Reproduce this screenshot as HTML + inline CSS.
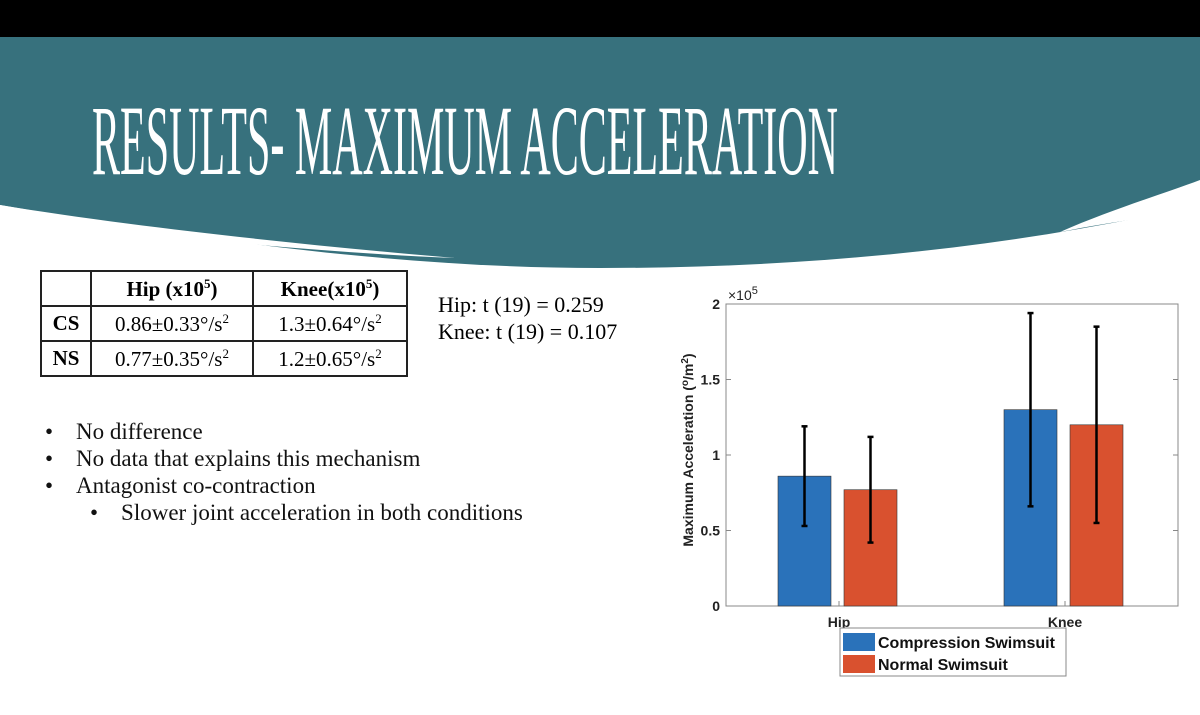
<!DOCTYPE html>
<html><head><meta charset="utf-8"><style>
body{margin:0;width:1200px;height:715px;overflow:hidden;background:#fff;font-family:"Liberation Serif",serif;position:relative}
.abs{position:absolute}
table{border-collapse:collapse;position:absolute;left:40px;top:270px;font-size:21px}
td{border:2px solid #222;height:33px;padding:0 4px;text-align:center;white-space:nowrap}
.b{font-weight:bold}
.bul{position:absolute;left:45px;font-size:23px;color:#111;white-space:nowrap}
</style></head><body>
<svg class="abs" style="left:0;top:0" width="1200" height="280">
<rect x="0" y="0" width="1200" height="37" fill="#000"/>
<path d="M0 37 H1200 V205 C1000 250 800 268 600 268 C400 268 200 240 0 205 Z" fill="#37717d"/>
<path d="M0 205 C120 225 300 245 455 258 C300 252 130 232 0 220 Z" fill="#fff"/>
<path d="M1200 180 C1160 195 1110 210 1060 232 C1110 222 1160 215 1200 212 Z" fill="#fff"/>
<text x="92" y="174" font-family="Liberation Serif, serif" font-size="100" fill="#fff" textLength="746" lengthAdjust="spacingAndGlyphs">RESULTS- MAXIMUM ACCELERATION</text>
</svg>
<table>
<tr><td style="width:40px"></td><td class="b" style="width:152px">Hip (x10<sup style="font-size:13px">5</sup>)</td><td class="b" style="width:144px">Knee(x10<sup style="font-size:13px">5</sup>)</td></tr>
<tr><td class="b">CS</td><td>0.86±0.33°/s<sup style="font-size:13px">2</sup></td><td>1.3±0.64°/s<sup style="font-size:13px">2</sup></td></tr>
<tr><td class="b">NS</td><td>0.77±0.35°/s<sup style="font-size:13px">2</sup></td><td>1.2±0.65°/s<sup style="font-size:13px">2</sup></td></tr>
</table>
<div class="abs" style="left:438px;top:291px;font-size:22px;line-height:27px">Hip: t (19) = 0.259<br>Knee: t (19) = 0.107</div>
<div class="bul" style="top:419px">•&nbsp;&nbsp;&nbsp;&nbsp;No difference</div>
<div class="bul" style="top:446px">•&nbsp;&nbsp;&nbsp;&nbsp;No data that explains this mechanism</div>
<div class="bul" style="top:473px">•&nbsp;&nbsp;&nbsp;&nbsp;Antagonist co-contraction</div>
<div class="bul" style="top:500px;left:90px">•&nbsp;&nbsp;&nbsp;&nbsp;Slower joint acceleration in both conditions</div>
<svg id="chart" class="abs" style="left:0;top:0" width="1200" height="715" font-family="Liberation Sans, sans-serif"></svg>
<script>
const categories=["Hip","Knee"];
const seriesNames=["Compression Swimsuit","Normal Swimsuit"];
const csValues=[0.86,1.3];
const nsValues=[0.77,1.2];
const csErr=[0.33,0.64];
const nsErr=[0.35,0.65];
const yTicks=[0,0.5,1,1.5,2];
const yTickLabels=["0","0.5","1","1.5","2"];
const colors=["#2a72ba","#d9512f"];
const svg=document.getElementById('chart');
const NS='http://www.w3.org/2000/svg';
const L=726,R=1178,T=304,B=596+10;
const y=v=>B-(v/2)*(B-T);
const x=i=>L+((i+1)-0.5)/2*(R-L);
function mk(t,a,p){const e=document.createElementNS(NS,t);for(const k in a)e.setAttribute(k,a[k]);(p||svg).appendChild(e);return e;}
const bg=mk('rect',{x:L,y:T,width:R-L,height:B-T,fill:'#fff',stroke:'#888','stroke-width':1});


yTicks.forEach((t,i)=>{
 mk('line',{x1:L,x2:L+5,y1:y(t),y2:y(t),stroke:'#888'});
 mk('line',{x1:R,x2:R-5,y1:y(t),y2:y(t),stroke:'#888'});
 const tx=mk('text',{x:L-6,y:y(t)+5,'text-anchor':'end','font-size':14,'font-weight':'bold',fill:'#222'});
 tx.textContent=yTickLabels[i];
 
 
});
const ex=mk('text',{x:728,y:300,'font-size':14,fill:'#222'});
ex.innerHTML='×10<tspan dy="-6" font-size="11">5</tspan>';


const series=[csValues,nsValues],errs=[csErr,nsErr];
const bw=53;
categories.forEach((c,i)=>{
 const cx=x(i);
 mk('line',{x1:cx,x2:cx,y1:B,y2:B-5,stroke:'#888'});
 const lab=mk('text',{x:cx,y:B+21,'text-anchor':'middle','font-size':14,'font-weight':'bold',fill:'#222'});
 lab.textContent=c;
 
 
 series.forEach((s,j)=>{
  const bx=cx+(j===0?-61:5);
  const r=mk('rect',{x:bx,y:y(s[i]),width:bw,height:B-y(s[i]),fill:colors[j],stroke:'#333','stroke-width':0.6});
  
  
  const mx=bx+bw/2,lo=y(s[i]-errs[j][i]),hi=y(s[i]+errs[j][i]);
  const g=mk('g',{stroke:'#000','stroke-width':2.5});
  
  
  mk('line',{x1:mx,x2:mx,y1:lo,y2:hi},g);
  mk('line',{x1:mx-3,x2:mx+3,y1:lo,y2:lo},g);
  mk('line',{x1:mx-3,x2:mx+3,y1:hi,y2:hi},g);
 });
});
const yl=mk('text',{transform:'translate(693,450) rotate(-90)','text-anchor':'middle','font-size':14,'font-weight':'bold',fill:'#222'});
yl.innerHTML='Maximum Acceleration (<tspan dy="-5" font-size="10">o</tspan><tspan dy="5">/m</tspan><tspan dy="-5" font-size="10">2</tspan><tspan dy="5">)</tspan>';


const lg=mk('g',{});


mk('rect',{x:840,y:628,width:226,height:48,fill:'#fff',stroke:'#888'},lg);
seriesNames.forEach((n,j)=>{
 const yy=633+j*22;
 mk('rect',{x:843,y:yy,width:32,height:18,fill:colors[j]},lg);
 const t=mk('text',{x:878,y:yy+15,'font-size':16,'font-weight':'bold',fill:'#111'},lg);
 t.textContent=n;
 
 
});
</script>
</body></html>
